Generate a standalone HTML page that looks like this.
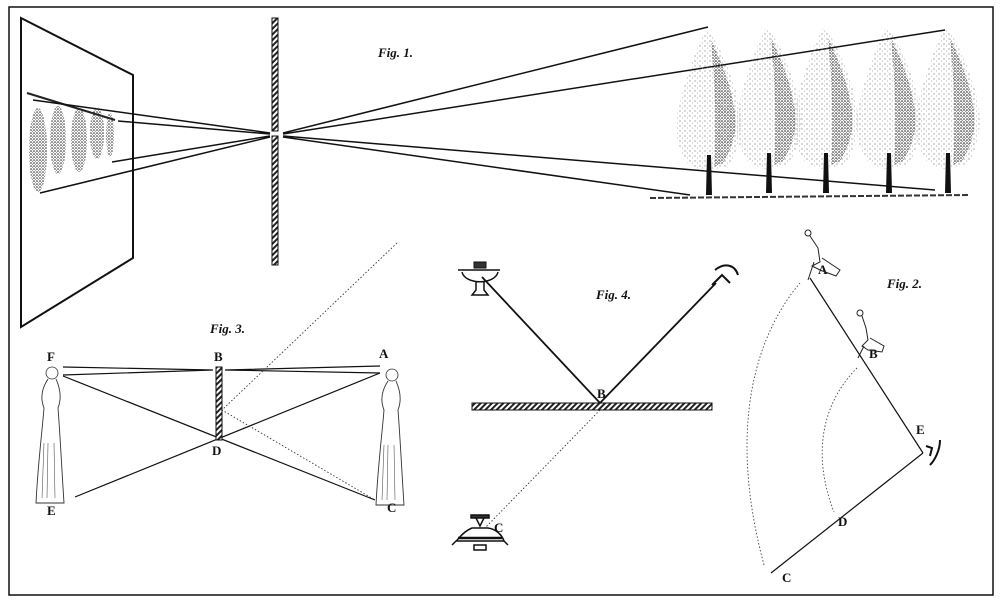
<!DOCTYPE html>
<html><head><meta charset="utf-8"><style>
html,body{margin:0;padding:0;background:#fff;}
svg{display:block;}
text{font-family:"Liberation Serif",serif;font-weight:bold;fill:#111;}
.fig{font-style:italic;font-size:13px;}
.lb{font-size:13px;}
</style></head><body>
<svg width="1000" height="603" viewBox="0 0 1000 603" xmlns="http://www.w3.org/2000/svg">
<defs>
<pattern id="dots" width="5" height="5" patternUnits="userSpaceOnUse">
<circle cx="1" cy="1" r="0.6" fill="#777"/><circle cx="3.5" cy="3" r="0.5" fill="#999"/>
</pattern>
<pattern id="ddots" width="3" height="3" patternUnits="userSpaceOnUse">
<circle cx="1" cy="1" r="0.8" fill="#222"/><circle cx="2.5" cy="2.3" r="0.5" fill="#555"/>
</pattern>
<pattern id="hatch" width="4" height="4" patternUnits="userSpaceOnUse" patternTransform="rotate(45)">
<rect width="4" height="4" fill="#fff"/><rect width="2" height="4" fill="#222"/>
</pattern>
<g id="tree">
<path d="M-2,-167 C10,-150 24,-120 30,-90 C34,-65 30,-45 20,-30 L4,-24 L-4,-24 L-20,-30 C-32,-45 -36,-65 -30,-90 C-22,-120 -12,-150 -2,-167Z" fill="url(#dots)"/>
<path d="M2,-155 C12,-135 24,-105 26,-80 C28,-60 22,-45 14,-32 L5,-28 C8,-65 6,-110 2,-155Z" fill="url(#ddots)"/>
<path d="M-2,-40 L-3,0 L3,0 L2,-40Z" fill="#111"/>
</g>
<g id="woman">
<circle cx="0" cy="0" r="6" fill="none" stroke="#333" stroke-width="0.8"/>
<path d="M-4,6 C-10,15 -12,25 -8,35 C-10,60 -14,90 -16,130 L12,130 C10,100 8,60 6,35 C10,25 8,15 4,6" fill="none" stroke="#333" stroke-width="0.9"/>
<path d="M-8,70 L-10,125 M-4,70 L-5,125 M2,70 L3,125" stroke="#555" stroke-width="0.6"/>
</g>
</defs>

<rect x="9" y="7" width="984" height="588" fill="none" stroke="#111" stroke-width="1.5"/>

<!-- Fig 1 -->
<polygon points="21,18 133,75 133,258 21,327" fill="none" stroke="#111" stroke-width="2"/>
<path d="M27,93 L115,120" stroke="#222" stroke-width="2"/>
<g fill="url(#ddots)">
<ellipse cx="38" cy="150" rx="9" ry="42"/><ellipse cx="58" cy="140" rx="8" ry="34"/>
<ellipse cx="79" cy="140" rx="8" ry="32"/><ellipse cx="97" cy="133" rx="7" ry="26"/>
<ellipse cx="110" cy="135" rx="4" ry="22"/>
</g>
<g stroke="#111" stroke-width="1.5" fill="none">
<path d="M33,100 L270,133 M118,121 L270,134 M112,162 L270,136 M40,193 L270,137"/>
<path d="M283,133 L708,27 M283,134 L945,30 M283,136 L935,190 M283,137 L690,195"/>
</g>
<rect x="272" y="18" width="6" height="113" fill="url(#hatch)" stroke="#111" stroke-width="1"/>
<rect x="272" y="136" width="6" height="129" fill="url(#hatch)" stroke="#111" stroke-width="1"/>
<text class="fig" x="378" y="57">Fig. 1.</text>
<use href="#tree" x="709" y="195"/>
<use href="#tree" x="769" y="193"/>
<use href="#tree" x="826" y="193"/>
<use href="#tree" x="889" y="193"/>
<use href="#tree" x="948" y="193"/>
<path d="M650,198 L970,195" stroke="#333" stroke-width="2" stroke-dasharray="6,2"/>

<!-- Fig 3 -->
<text class="fig" x="210" y="333">Fig. 3.</text>
<text class="lb" x="47" y="361">F</text>
<text class="lb" x="214" y="361">B</text>
<text class="lb" x="379" y="358">A</text>
<text class="lb" x="212" y="455">D</text>
<text class="lb" x="47" y="515">E</text>
<text class="lb" x="387" y="512">C</text>
<use href="#woman" x="52" y="373"/>
<use href="#woman" x="392" y="375"/>
<g stroke="#111" stroke-width="1.2" fill="none">
<path d="M63,367 L213,370 M63,375 L213,370 M225,370 L380,366 M225,370 L380,373"/>
<path d="M63,376 L375,500 M380,373 L75,497"/>
</g>
<g stroke="#333" stroke-width="0.9" stroke-dasharray="1.5,2" fill="none">
<path d="M397,243 L222,410 L375,500"/>
</g>
<rect x="216" y="367" width="6" height="73" fill="url(#hatch)" stroke="#111" stroke-width="1"/>

<!-- Fig 4 -->
<text class="fig" x="596" y="299">Fig. 4.</text>
<g stroke="#111" fill="none">
<path d="M458,270 L500,270 M462,272 C465,285 495,285 498,272 M476,282 L476,290 L472,295 L488,295 L484,290 L484,282" stroke-width="1.5"/>
<rect x="474" y="262" width="12" height="6" fill="#333"/>
<path d="M482,277 L600,403 L716,283" stroke-width="1.8"/>
<path d="M715,270 C725,262 735,265 738,275 M712,285 L722,275 L730,283" stroke-width="2"/>
</g>
<rect x="472" y="403" width="240" height="7" fill="url(#hatch)" stroke="#111" stroke-width="1"/>
<text class="lb" x="597" y="398">B</text>
<path d="M600,410 L486,527" stroke="#333" stroke-width="0.9" stroke-dasharray="1.5,2"/>
<g stroke="#111" fill="none" stroke-width="1.5">
<rect x="471" y="515" width="18" height="3" fill="#333"/>
<path d="M476,518 L480,526 L484,518 M472,528 C462,532 458,540 456,541 L504,541 C502,535 496,529 488,528 Z M456,541 L452,545 M504,541 L508,545 M474,545 L486,545 L486,550 L474,550Z"/>
<path d="M458,538 L502,538" stroke-width="2.5"/>
</g>
<text class="lb" x="494" y="532">C</text>

<!-- Fig 2 -->
<text class="fig" x="887" y="288">Fig. 2.</text>
<text class="lb" x="818" y="274">A</text>
<text class="lb" x="869" y="358">B</text>
<text class="lb" x="916" y="434">E</text>
<text class="lb" x="838" y="526">D</text>
<text class="lb" x="782" y="582">C</text>
<g stroke="#222" fill="none" stroke-width="1">
<circle cx="808" cy="233" r="3"/><path d="M810,236 L818,248 L820,262 L812,266 L820,270 L836,276 L840,270 L822,258 M814,262 L808,280"/>
<circle cx="860" cy="313" r="3"/><path d="M862,316 L866,328 L868,340 L862,346 L868,350 L882,352 L884,346 L870,338 M864,346 L858,358"/>
</g>
<g stroke="#111" stroke-width="1.2" fill="none">
<path d="M810,278 L923,453 M771,573 L923,453"/>
<path d="M926,446 L932,448 L930,456 M940,440 C940,450 935,460 930,465" stroke-width="2"/>
</g>
<g stroke="#444" stroke-width="0.9" stroke-dasharray="1.5,2" fill="none">
<path d="M800,283 C760,330 725,420 764,565"/>
<path d="M857,368 C825,400 810,450 834,512"/>
</g>
</svg>
</body></html>
